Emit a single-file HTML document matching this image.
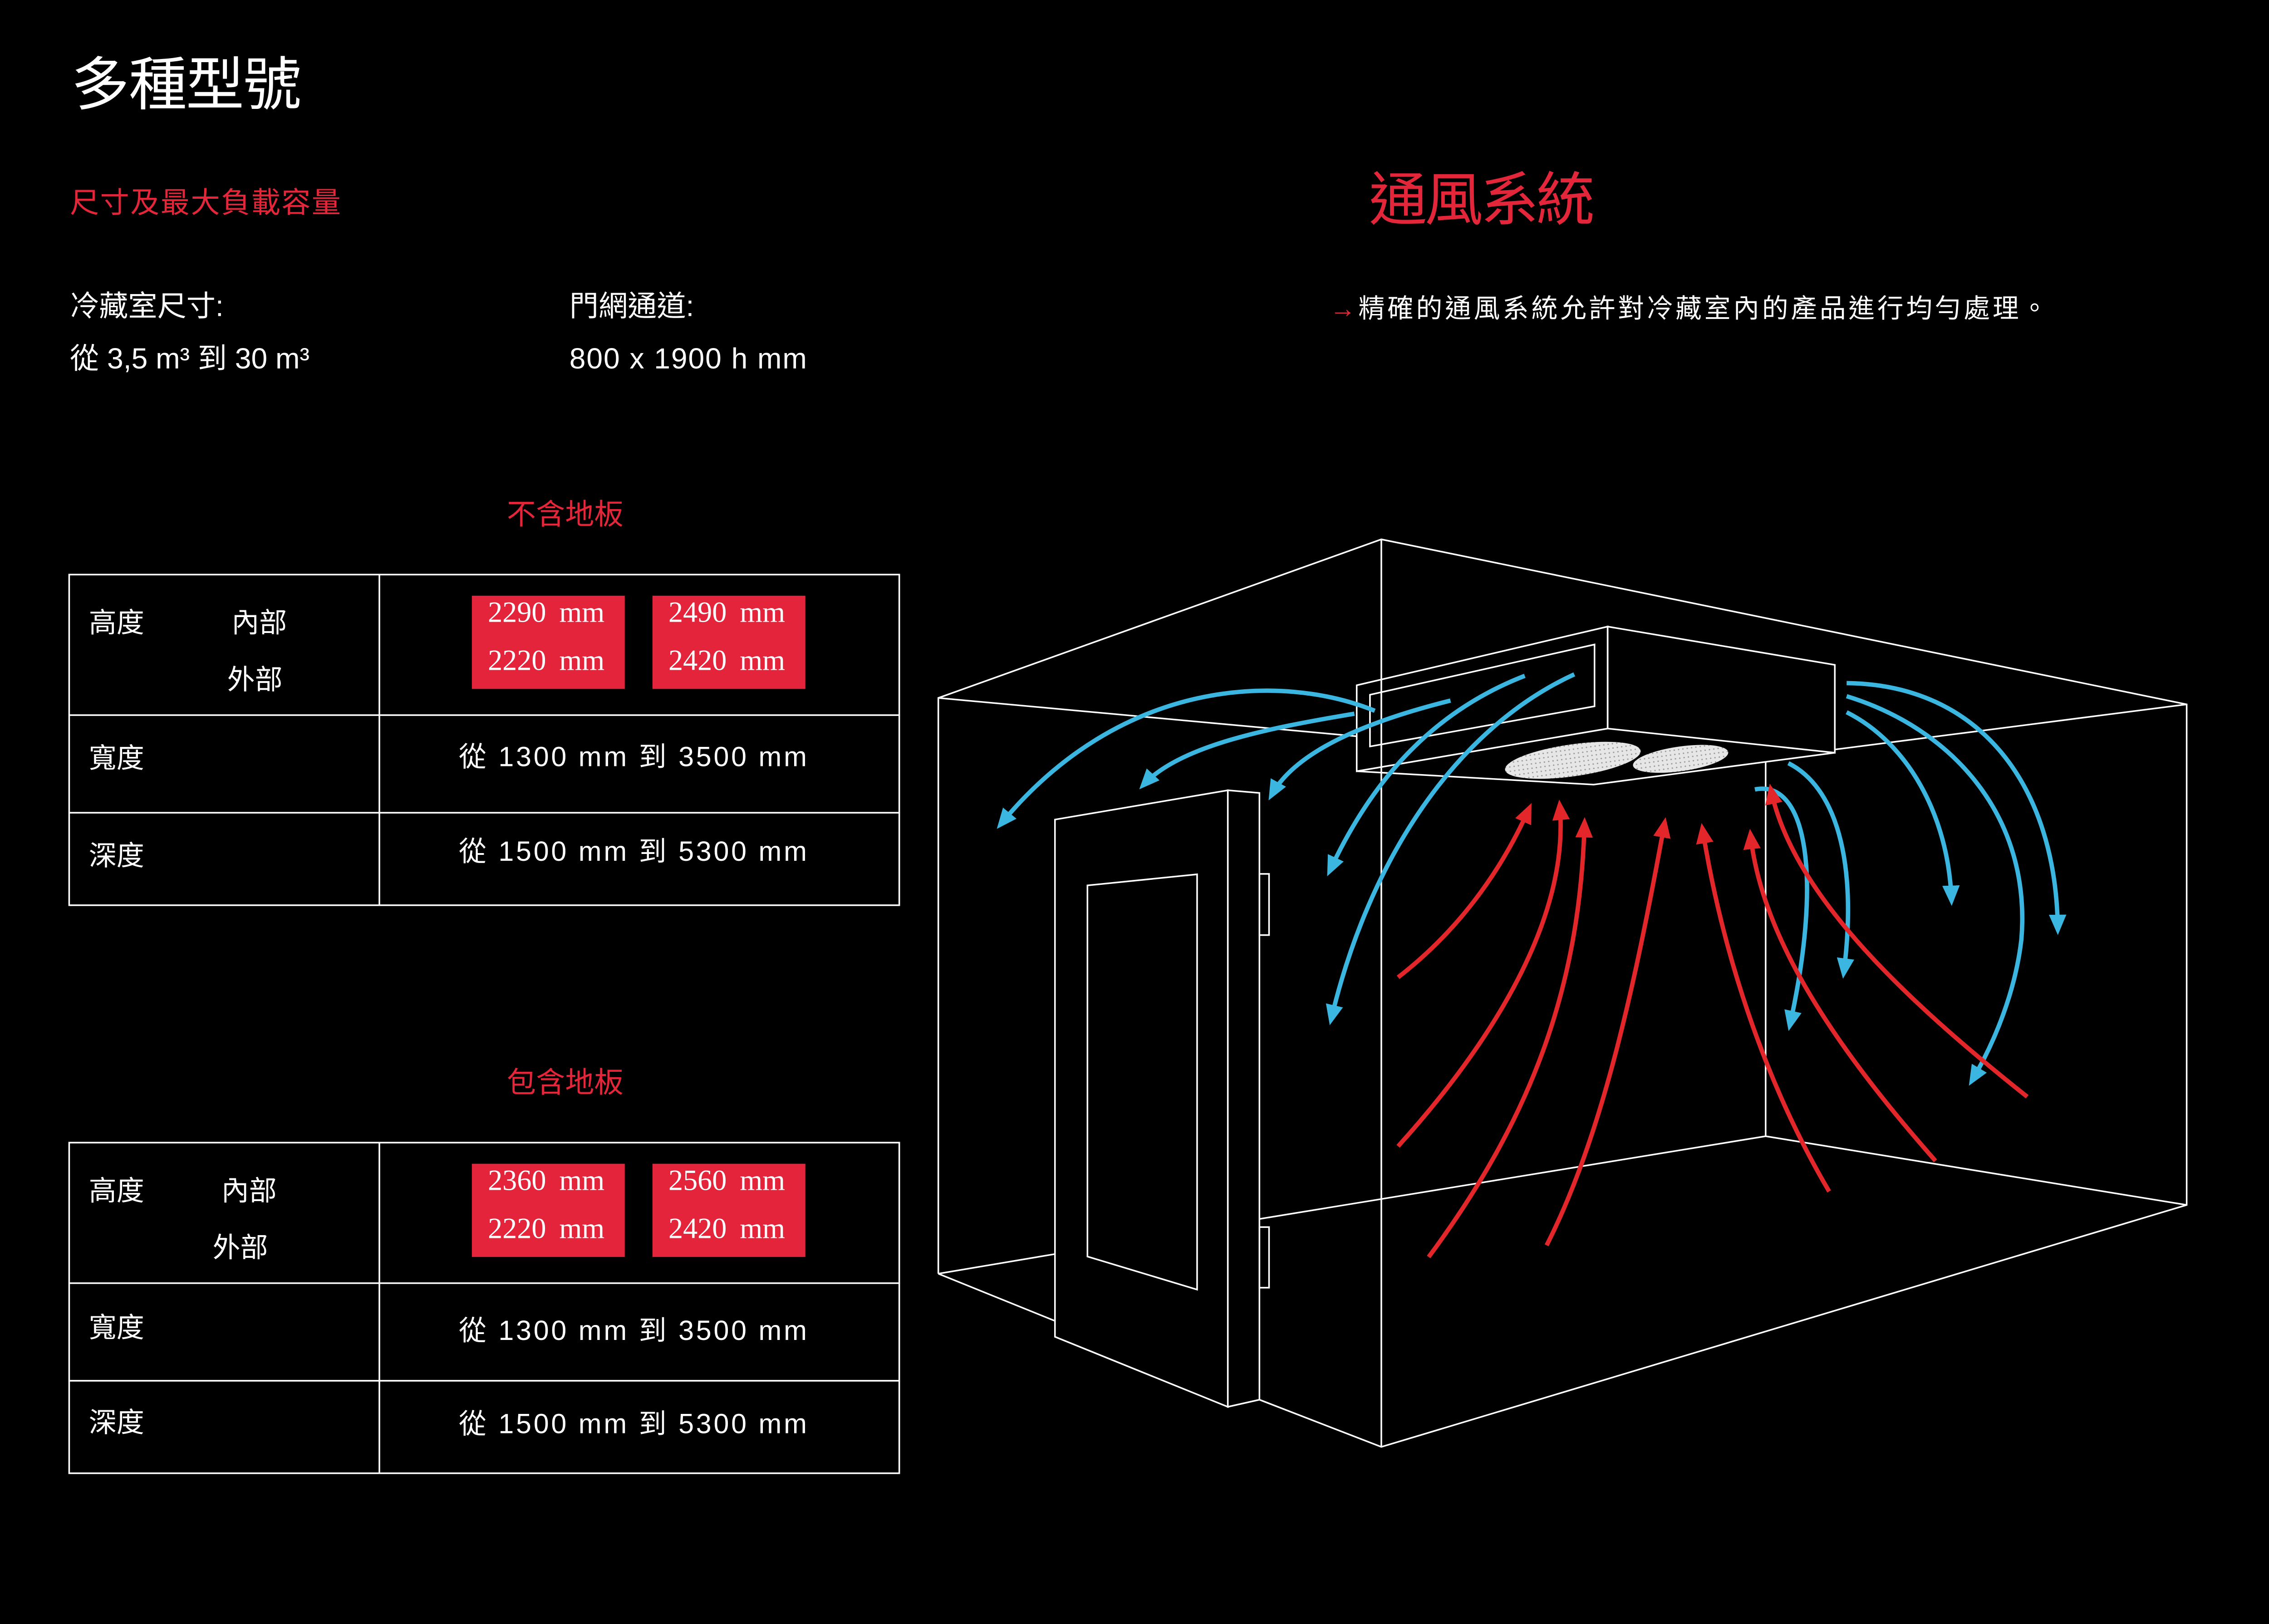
<!DOCTYPE html>
<html><head><meta charset="utf-8"><style>
html,body{margin:0;padding:0;background:#000;width:5032px;height:3579px;overflow:hidden}
svg{display:block}
text{font-family:"Liberation Sans","Noto Sans CJK TC",sans-serif;fill:#fff}
.r{fill:#e3263a}
.s{font-family:"Liberation Serif","Noto Serif CJK SC",serif;fill:#fff}
.l{stroke:#fff;stroke-width:1.1;fill:none}
.b{stroke:#3ab6e0;stroke-width:3;fill:none;marker-end:url(#mb)}
.rd{stroke:#e3262a;stroke-width:3;fill:none;marker-end:url(#mr)}
</style></head><body>
<svg width="5032" height="3579" viewBox="0 0 1568 1115" preserveAspectRatio="none">
<defs>
<marker id="mb" markerUnits="userSpaceOnUse" markerWidth="16" markerHeight="14" refX="10" refY="6" orient="auto"><path d="M0,0 L14,6 L0,12 z" fill="#3ab6e0"/></marker>
<marker id="mr" markerUnits="userSpaceOnUse" markerWidth="16" markerHeight="14" refX="10" refY="6" orient="auto"><path d="M0,0 L14,6 L0,12 z" fill="#e3262a"/></marker>
<pattern id="dots" width="3" height="3" patternUnits="userSpaceOnUse"><rect width="3" height="3" fill="#e6e6e6"/><circle cx="1.5" cy="1.5" r="0.5" fill="#999"/></pattern>
</defs>
<rect width="1568" height="1115" fill="#000"/>

<text x="49" y="72" font-size="40" textLength="158">多種型號</text>
<text x="48" y="146" font-size="20" class="r" textLength="186">尺寸及最大負載容量</text>
<text x="48" y="217" font-size="20">冷藏室尺寸:</text>
<text x="48" y="253" font-size="20">從  3,5 m³ 到 30  m³</text>
<text x="391" y="217" font-size="20">門網通道:</text>
<text x="391" y="253" font-size="20" textLength="163">800 x 1900 h mm</text>

<text x="348" y="360" font-size="20" class="r" textLength="80">不含地板</text>
<g class="l"><rect x="47.5" y="394.5" width="570" height="227"/><line x1="260.5" y1="394" x2="260.5" y2="622"/><line x1="47" y1="491" x2="618" y2="491"/><line x1="47" y1="558" x2="618" y2="558"/></g>
<rect x="324" y="409" width="105" height="64" fill="#e3243b"/><rect x="448" y="409" width="105" height="64" fill="#e3243b"/>
<g class="s" font-size="20">
<text class="s" x="335" y="427">2290</text><text class="s" x="384" y="427">mm</text>
<text class="s" x="335" y="460">2220</text><text class="s" x="384" y="460">mm</text>
<text class="s" x="459" y="427">2490</text><text class="s" x="508" y="427">mm</text>
<text class="s" x="459" y="460">2420</text><text class="s" x="508" y="460">mm</text>
</g>
<text x="61" y="434" font-size="19">高度</text>
<text x="159" y="434" font-size="19">內部</text>
<text x="156" y="473" font-size="19">外部</text>
<text x="61" y="527" font-size="19">寬度</text>
<text x="315" y="526" font-size="19" textLength="239">從 1300 mm 到 3500 mm</text>
<text x="61" y="594" font-size="19">深度</text>
<text x="315" y="591" font-size="19" textLength="239">從 1500 mm 到 5300 mm</text>

<text x="348" y="750" font-size="20" class="r" textLength="80">包含地板</text>
<g class="l"><rect x="47.5" y="784.5" width="570" height="227"/><line x1="260.5" y1="784" x2="260.5" y2="1012"/><line x1="47" y1="881" x2="618" y2="881"/><line x1="47" y1="948" x2="618" y2="948"/></g>
<rect x="324" y="799" width="105" height="64" fill="#e3243b"/><rect x="448" y="799" width="105" height="64" fill="#e3243b"/>
<g font-size="20">
<text class="s" x="335" y="817">2360</text><text class="s" x="384" y="817">mm</text>
<text class="s" x="335" y="850">2220</text><text class="s" x="384" y="850">mm</text>
<text class="s" x="459" y="817">2560</text><text class="s" x="508" y="817">mm</text>
<text class="s" x="459" y="850">2420</text><text class="s" x="508" y="850">mm</text>
</g>
<text x="61" y="824" font-size="19">高度</text>
<text x="152" y="824" font-size="19">內部</text>
<text x="146" y="863" font-size="19">外部</text>
<text x="61" y="918" font-size="19">寬度</text>
<text x="315" y="920" font-size="19" textLength="239">從 1300 mm 到 3500 mm</text>
<text x="61" y="983" font-size="19">深度</text>
<text x="315" y="984" font-size="19" textLength="239">從 1500 mm 到 5300 mm</text>

<text x="940" y="151" font-size="40" class="r" textLength="155">通風系統</text>
<text x="913" y="218" font-size="18" textLength="493"><tspan class="r">→</tspan>精確的通風系統允許對冷藏室內的產品進行均勻處理。</text>

<g class="l">
<polyline points="644.3,874.5 644.3,479.2 948.5,370.3 1501.5,483.6 1501.5,827.3 948.5,993.4 864.8,961"/>
<line x1="948.5" y1="370.3" x2="948.5" y2="993.4"/>
<line x1="644.3" y1="479.2" x2="931.6" y2="505.5"/>
<line x1="1259.9" y1="514.6" x2="1501.5" y2="483.6"/>
<line x1="1212.4" y1="523" x2="1212.4" y2="780.1"/>
<line x1="864.8" y1="836.9" x2="1212.4" y2="780.1"/>
<line x1="1212.4" y1="780.1" x2="1501.5" y2="827.3"/>
<line x1="644.3" y1="874.5" x2="724.4" y2="861"/>
<line x1="644.3" y1="874.5" x2="724.4" y2="906.9"/>
<polygon points="931.6,470.5 1103.9,430.2 1103.9,500.2 931.6,529.5"/>
<polygon points="940.7,477 1094.9,442.5 1094.9,484.9 940.7,512.5"/>
<polygon points="1103.9,430.2 1259.9,456.5 1259.9,516.8 1103.9,500.2"/>
<polyline points="931.6,529.5 1094.3,538.7 1259.9,516.8"/>
<polygon points="724.4,562.7 843.1,542.6 843.1,965.9 724.4,917.8" fill="#000"/>
<polygon points="843.1,542.6 864.8,544.4 864.8,961 843.1,965.9" fill="#000"/>
<polygon points="746.7,607.9 822,600.3 822,885.4 746.7,862.7"/>
<rect x="864.8" y="600" width="6.6" height="42"/>
<rect x="864.8" y="842.5" width="6.6" height="41.6"/>
</g>
<ellipse cx="1080" cy="522" rx="47" ry="11" transform="rotate(-8 1080 522)" fill="url(#dots)"/>
<ellipse cx="1154" cy="521" rx="33" ry="8.5" transform="rotate(-8 1154 521)" fill="url(#dots)"/>

<path class="b" d="M944,488 C880,462 770,465 687,566"/>
<path class="b" d="M930,490 C870,500 810,512 785,539"/>
<path class="b" d="M996,481 C940,495 890,515 873,546"/>
<path class="b" d="M1047,464 C980,490 940,540 913,598"/>
<path class="b" d="M1081,463 C1000,500 940,590 914,700"/>
<path class="b" d="M1268,469 C1360,470 1412,540 1413,638"/>
<path class="b" d="M1268,478 C1340,500 1395,560 1388,645 C1384,680 1370,715 1354,742"/>
<path class="b" d="M1268,489 C1310,510 1338,560 1340,618"/>
<path class="b" d="M1228,524 C1260,540 1276,590 1266,668"/>
<path class="b" d="M1205,542 C1240,535 1252,600 1229,704"/>

<path class="rd" d="M960,671 C1000,640 1030,600 1050,555"/>
<path class="rd" d="M960,787 C1025,715 1078,630 1071,553"/>
<path class="rd" d="M981,863 C1050,770 1085,680 1088,565"/>
<path class="rd" d="M1062,855 C1100,780 1122,680 1143,565"/>
<path class="rd" d="M1256,818 C1210,740 1182,650 1169,569"/>
<path class="rd" d="M1329,797 C1270,730 1210,650 1202,573"/>
<path class="rd" d="M1392,753 C1300,680 1230,610 1216,542"/>
</svg>
</body></html>
